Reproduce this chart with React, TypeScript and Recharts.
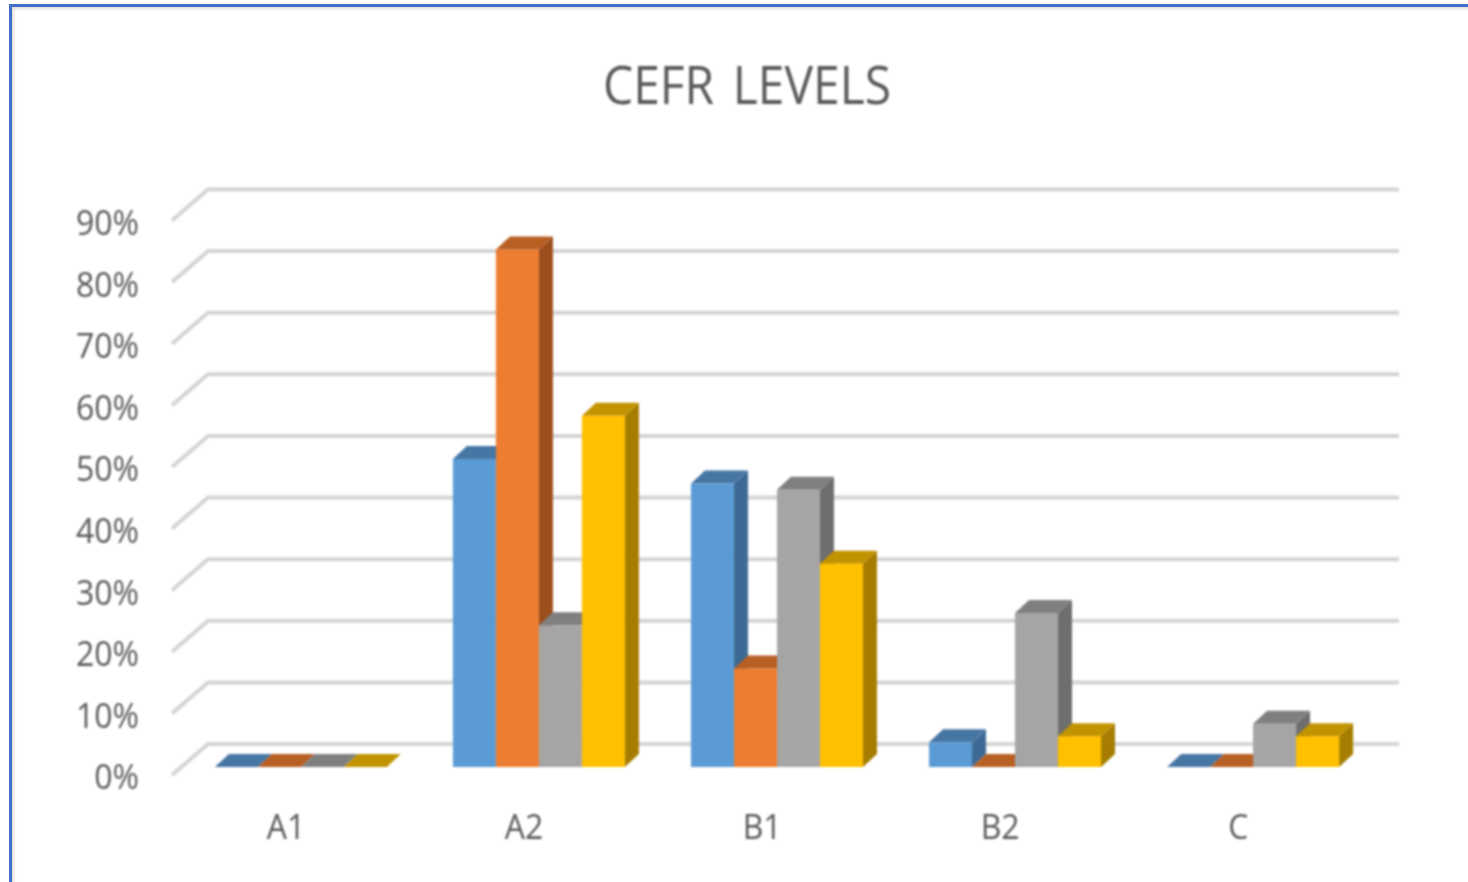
import { Bar, BarChart, CartesianGrid, XAxis, YAxis } from "recharts";

const categories = ["A1", "A2", "B1", "B2", "C"];
const series1 = [0, 50, 46, 4, 0];
const series2 = [0, 84, 16, 0, 0];
const series3 = [0, 23, 45, 25, 7];
const series4 = [0, 57, 33, 5, 5];
const yTicks = [0, 10, 20, 30, 40, 50, 60, 70, 80, 90];

const data = categories.map((name, i) => ({
  name,
  s1: series1[i],
  s2: series2[i],
  s3: series3[i],
  s4: series4[i],
}));

const FONT = "'Open Sans', sans-serif";
const TEXT = "#595959";
const DEPTH_X = 14;
const DEPTH_Y = 13;

// fake 3D column: front face plus top and right side polygons
function box(front: string, top: string, side: string) {
  return (props: any) => {
    const { x, y, width: w, height: h } = props;
    return (
      <g>
        <polygon
          points={`${x + w},${y} ${x + w + DEPTH_X},${y - DEPTH_Y} ${x + w + DEPTH_X},${y + h - DEPTH_Y} ${x + w},${y + h}`}
          fill={side}
        />
        <polygon
          points={`${x},${y} ${x + DEPTH_X},${y - DEPTH_Y} ${x + w + DEPTH_X},${y - DEPTH_Y} ${x + w},${y}`}
          fill={top}
        />
        <rect x={x} y={y} width={w} height={h} fill={front} />
      </g>
    );
  };
}

// back wall lines, the short slanted piece is the side wall
function wallLine(props: any) {
  const { y1, key } = props;
  return (
    <polyline
      key={key}
      points={`172,${y1 + 8} 208,${y1 - 23} 1399,${y1 - 23}`}
      fill="none"
      stroke="#d4d4d4"
      strokeWidth={4}
    />
  );
}

// source picture is stretched a bit vertically, so text gets a y scale
function tall(x: number, y: number, k: number) {
  return `translate(${x} ${y}) scale(1 ${k})`;
}

function YTick(props: any) {
  const { y, payload } = props;
  return (
    <text
      transform={tall(139, y + 9, 1.08)}
      textAnchor="end"
      dominantBaseline="central"
      fontFamily={FONT}
      fontSize={32}
      fill={TEXT}
    >
      {payload.value}%
    </text>
  );
}

function XTick(props: any) {
  const { x, payload } = props;
  return (
    <text
      transform={tall(x - 15.5, 825, 1.1)}
      textAnchor="middle"
      dominantBaseline="central"
      fontFamily={FONT}
      fontSize={32}
      fill={TEXT}
    >
      {payload.value}
    </text>
  );
}

export default function App() {
  return (
    <div
      style={{
        position: "absolute",
        left: 0,
        top: 0,
        width: 1468,
        height: 882,
        overflow: "hidden",
        background: "#fff",
      }}
    >
      <div
        style={{
          position: "absolute",
          left: 9,
          top: 4,
          width: 2000,
          height: 2000,
          borderLeft: "3px solid #3f6fc8",
          borderTop: "3px solid #3f6fc8",
          boxShadow: "inset 2px 2px 3px #dedede",
        }}
      />
      <div style={{ position: "absolute", left: 0, top: 0, filter: "blur(0.8px)" }}>
        <BarChart
          width={1468}
          height={882}
          data={data}
          margin={{ top: 212.5, right: 95.25, bottom: 0, left: 0 }}
          barCategoryGap="13.6%"
          barGap={0}
        >
          <text
            transform={tall(747, 84, 1.1)}
            textAnchor="middle"
            dominantBaseline="central"
            fontFamily={FONT}
            fontSize={48}
            wordSpacing={6}
            fill={TEXT}
          >
            CEFR LEVELS
          </text>
          <CartesianGrid vertical={false} horizontal={wallLine} />
          <XAxis
            dataKey="name"
            axisLine={false}
            tickLine={false}
            height={115}
            tick={XTick}
          />
          <YAxis
            domain={[0, 90]}
            ticks={yTicks}
            axisLine={false}
            tickLine={false}
            width={182.5}
            tick={YTick}
          />
          <Bar dataKey="s1" isAnimationActive={false} shape={box("#5b9bd5", "#4676a3", "#3d6a94")} />
          <Bar dataKey="s2" isAnimationActive={false} shape={box("#ed7d31", "#b85f24", "#9c4f1c")} />
          <Bar dataKey="s3" isAnimationActive={false} shape={box("#a5a5a5", "#7f7f7f", "#6e6e6e")} />
          <Bar dataKey="s4" isAnimationActive={false} shape={box("#ffc000", "#c29300", "#a67d00")} />
        </BarChart>
      </div>
    </div>
  );
}
